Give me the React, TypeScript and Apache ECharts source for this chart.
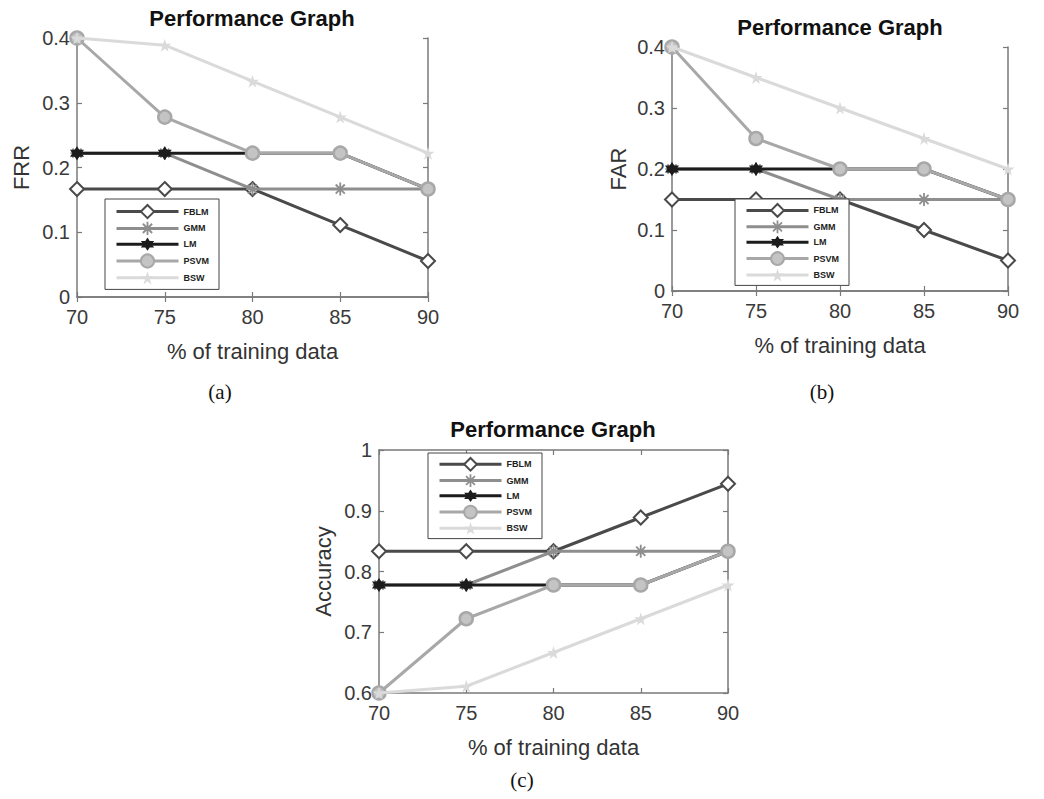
import React, { useEffect, useRef } from "react";
import * as echarts from "echarts";

const xValues = [70, 75, 80, 85, 90];
const seriesNames = ["FBLM", "GMM", "LM", "PSVM", "BSW"];

// (a) FRR
const frrFBLM = [0.1667, 0.1667, 0.1667, 0.1111, 0.0556];
const frrGMM = [0.2222, 0.2222, 0.1667, 0.1667, 0.1667];
const frrLM = [0.2222, 0.2222, 0.2222, 0.2222, 0.1667];
const frrPSVM = [0.4, 0.2778, 0.2222, 0.2222, 0.1667];
const frrBSW = [0.4, 0.3889, 0.3333, 0.2778, 0.2222];

// (b) FAR
const farFBLM = [0.15, 0.15, 0.15, 0.1, 0.05];
const farGMM = [0.2, 0.2, 0.15, 0.15, 0.15];
const farLM = [0.2, 0.2, 0.2, 0.2, 0.15];
const farPSVM = [0.4, 0.25, 0.2, 0.2, 0.15];
const farBSW = [0.4, 0.35, 0.3, 0.25, 0.2];

// (c) Accuracy
const accFBLM = [0.8333, 0.8333, 0.8333, 0.8889, 0.9444];
const accGMM = [0.7778, 0.7778, 0.8333, 0.8333, 0.8333];
const accLM = [0.7778, 0.7778, 0.7778, 0.7778, 0.8333];
const accPSVM = [0.6, 0.7222, 0.7778, 0.7778, 0.8333];
const accBSW = [0.6, 0.6111, 0.6667, 0.7222, 0.7778];

const panelTitles = ["Performance Graph", "Performance Graph", "Performance Graph"];
const yNames = ["FRR", "FAR", "Accuracy"];
const xName = "% of training data";
const captions = ["(a)", "(b)", "(c)"];

const lineColors = ["#4a4a4a", "#8e8e8e", "#1c1c1c", "#a8a8a8", "#dadada"];
const asteriskPath =
  "path://M4.3 0H5.7V10H4.3Z M0 4.3H10V5.7H0Z M1 2L2 1L9 8L8 9Z M8 1L9 2L2 9L1 8Z";
const hexPath =
  "path://M50 0L64.45 25L93.3 25L78.9 50L93.3 75L64.45 75L50 100L35.55 75L6.7 75L21.1 50L6.7 25L35.55 25Z";
const starPath =
  "path://M50 0L61 35L98 35L68 57L79 91L50 70L21 91L32 57L2 35L39 35Z";

export default function App() {
  const ref = useRef<HTMLDivElement>(null);
  useEffect(() => {
    if (!ref.current) return;
    const chart = echarts.init(ref.current, null, { renderer: "svg" });

    const grids = [
      { left: 77, top: 38, width: 351, height: 259 },
      { left: 672, top: 47, width: 336, height: 244 },
      { left: 379, top: 450, width: 349, height: 243 },
    ];
    const yRanges = [
      [0, 0.4],
      [0, 0.4],
      [0.6, 1],
    ];
    const yNameGaps = [45, 43, 45];
    const data = [
      [frrFBLM, frrGMM, frrLM, frrPSVM, frrBSW],
      [farFBLM, farGMM, farLM, farPSVM, farBSW],
      [accFBLM, accGMM, accLM, accPSVM, accBSW],
    ];
    const legendBoxes = [
      { left: 105, top: 199, h: 16.5, gap: 2.6, pad: 5 },
      { left: 735, top: 199, h: 16, gap: 2.6, pad: 4 },
      { left: 428, top: 453, h: 15.8, gap: 2.6, pad: 4 },
    ];

    const axisCol = "#7a7a7a";
    const axisLine = { show: true, lineStyle: { color: axisCol, width: 1.5 } };
    const tick = { show: true, inside: true, length: 5, lineStyle: { color: axisCol, width: 1.2 } };
    const labelStyle = { fontFamily: "Liberation Sans", fontSize: 20, color: "#3a3a3a" };

    const xAxes: any[] = [];
    const yAxes: any[] = [];
    for (let i = 0; i < 3; i++) {
      xAxes.push({
        type: "value",
        gridIndex: i,
        min: 70,
        max: 90,
        interval: 5,
        position: "bottom",
        axisLine,
        axisTick: tick,
        splitLine: { show: false },
        axisLabel: { ...labelStyle, margin: 10 },
        name: xName,
        nameLocation: "middle",
        nameGap: 43,
        nameTextStyle: { fontFamily: "Liberation Sans", fontSize: 22, color: "#333" },
      });
      yAxes.push({
        type: "value",
        gridIndex: i,
        min: yRanges[i][0],
        max: yRanges[i][1],
        interval: 0.1,
        position: "left",
        axisLine,
        axisTick: tick,
        splitLine: { show: false },
        axisLabel: { ...labelStyle, margin: 7 },
        name: yNames[i],
        nameLocation: "middle",
        nameRotate: 90,
        nameGap: yNameGaps[i],
        nameTextStyle: { fontFamily: "Liberation Sans", fontSize: 22, color: "#333" },
      });
    }
    for (let i = 0; i < 3; i++) {
      xAxes.push({
        type: "value",
        gridIndex: i,
        min: 70,
        max: 90,
        interval: 5,
        position: "top",
        axisLine,
        axisTick: tick,
        splitLine: { show: false },
        axisLabel: { show: false },
      });
      yAxes.push({
        type: "value",
        gridIndex: i,
        min: yRanges[i][0],
        max: yRanges[i][1],
        interval: 0.1,
        position: "right",
        axisLine,
        axisTick: tick,
        splitLine: { show: false },
        axisLabel: { show: false },
      });
    }

    const symbolFor = (k: number) => {
      switch (k) {
        case 0:
          return { symbol: "emptyDiamond", symbolSize: 14, itemStyle: { color: lineColors[0], borderWidth: 2.5 } };
        case 1:
          return { symbol: asteriskPath, symbolSize: 13, itemStyle: { color: lineColors[1] } };
        case 2:
          return { symbol: hexPath, symbolSize: 14, itemStyle: { color: lineColors[2] } };
        case 3:
          return {
            symbol: "circle",
            symbolSize: 13,
            itemStyle: { color: "#c4c4c4", borderColor: lineColors[3], borderWidth: 2.5 },
          };
        default:
          return { symbol: starPath, symbolSize: 13, itemStyle: { color: lineColors[4] } };
      }
    };

    const series: any[] = [];
    for (let i = 0; i < 3; i++) {
      for (let k = 0; k < 5; k++) {
        const s = symbolFor(k);
        series.push({
          type: "line",
          name: seriesNames[k],
          xAxisIndex: i,
          yAxisIndex: i,
          data: xValues.map((x, j) => [x, data[i][k][j]]),
          lineStyle: { color: lineColors[k], width: 3 },
          showSymbol: true,
          ...s,
          z: 2 + k,
        });
      }
    }

    const legends = legendBoxes.map((b) => ({
      orient: "vertical",
      left: b.left,
      top: b.top,
      data: seriesNames,
      itemWidth: 62,
      itemHeight: b.h,
      itemGap: b.gap,
      padding: [b.pad, 10, b.pad, 10],
      backgroundColor: "#fff",
      borderColor: "#444",
      borderWidth: 1,
      selectedMode: false,
      lineStyle: { width: 3 },
      textStyle: { fontFamily: "Liberation Sans", fontSize: 9, fontWeight: "bold", color: "#222" },
      z: 10,
    }));

    const titlePos = [
      [252, 18],
      [840, 27],
      [553, 429],
    ];
    const capPos = [
      [220, 392],
      [822, 392],
      [522, 780],
    ];
    const graphics: any[] = [];
    for (let i = 0; i < 3; i++) {
      graphics.push({
        type: "text",
        x: titlePos[i][0],
        y: titlePos[i][1],
        style: {
          text: panelTitles[i],
          fontFamily: "Liberation Sans",
          fontSize: 22,
          fontWeight: "bold",
          fill: "#111",
          textAlign: "center",
          textVerticalAlign: "middle",
        },
      });
      graphics.push({
        type: "text",
        x: capPos[i][0],
        y: capPos[i][1],
        style: {
          text: captions[i],
          fontFamily: "Liberation Serif",
          fontSize: 21,
          fill: "#111",
          textAlign: "center",
          textVerticalAlign: "middle",
        },
      });
    }

    chart.setOption({
      animation: false,
      backgroundColor: "#fff",
      grid: grids.map((g) => ({ ...g, containLabel: false })),
      xAxis: xAxes,
      yAxis: yAxes,
      legend: legends,
      series,
      graphic: graphics,
    });
    return () => chart.dispose();
  }, []);
  return (
    <div
      ref={ref}
      style={{ position: "fixed", left: 0, top: 0, width: 1044, height: 799, background: "#fff" }}
    />
  );
}
